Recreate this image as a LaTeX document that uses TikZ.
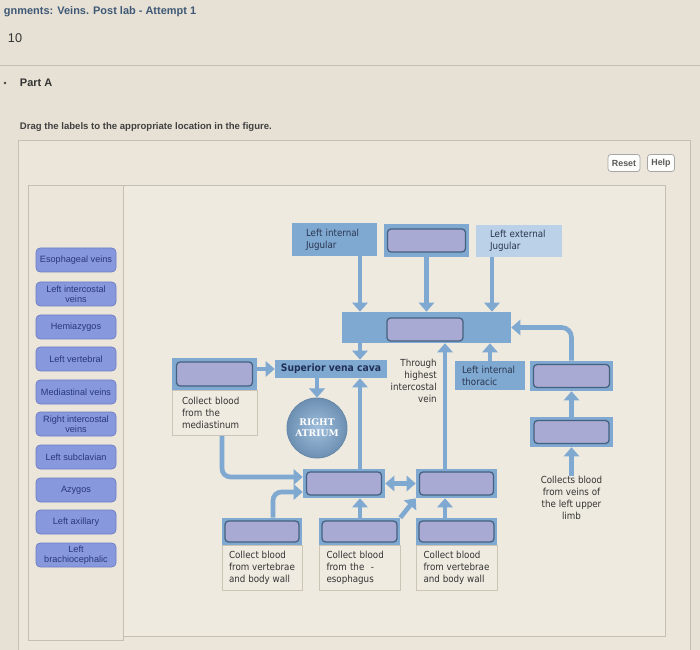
\documentclass[tikz,border=0pt]{standalone}
\usepackage{fontspec}
\setmainfont{Liberation Sans}
\newfontfamily\veinfont[FakeStretch=0.9]{DejaVu Sans}
\newfontfamily\atriumfont{DejaVu Serif}
\usetikzlibrary{arrows.meta}
\definecolor{paper}{HTML}{E7E1D5}
\definecolor{panel}{HTML}{ECE6DA}
\definecolor{figbg}{HTML}{EFEADF}
\definecolor{rule}{HTML}{C4BFB5}
\definecolor{vein}{HTML}{80A9D1}
\definecolor{veinlight}{HTML}{BAD1E7}
\definecolor{slot}{HTML}{A8AAD3}
\definecolor{slotline}{HTML}{46617F}
\definecolor{tilefill}{HTML}{8898DC}
\definecolor{tileline}{HTML}{6C7DC6}
\definecolor{tileink}{HTML}{27377A}
\definecolor{ink}{HTML}{2A3550}
\definecolor{navy}{HTML}{1F2F55}
\definecolor{notefill}{HTML}{F0EBE1}
\definecolor{noteline}{HTML}{CCC5B6}
\definecolor{titleink}{HTML}{3E5876}
\newcommand{\upx}{0.025cm}
\newcommand{\veinsize}{\veinfont\fontsize{6.9}{8.5}\selectfont}

\begin{document}
\begin{tikzpicture}[x=\upx, y=-\upx,
  veinbox/.style={fill=vein, inner sep=0pt, font=\veinsize, text=ink, align=left},
  slotbox/.style={fill=slot, draw=slotline, line width=0.9pt, rounded corners=2.5pt, inner sep=0pt},
  notebox/.style={fill=notefill, draw=noteline, line width=0.5pt, inner sep=0pt, minimum height=45*\upx, font=\veinsize, text=black!80, align=left},
  tile/.style={fill=tilefill, draw=tileline, line width=0.5pt, rounded corners=3pt, minimum width=80*\upx, minimum height=24*\upx, inner sep=1pt, align=center, text=tileink, font=\fontsize{6.5}{7.3}\selectfont},
  button/.style={fill=white!92!paper, draw=black!35, line width=0.5pt, rounded corners=2pt, minimum height=17*\upx, inner sep=0pt, font=\bfseries\fontsize{6.3}{7}\selectfont, text=black!65},
  flow/.style={draw=vein, line width=3.3pt, -{Triangle[width=11pt,length=6.5pt]}}]
  \useasboundingbox (0,0) rectangle (700,650);
  \fill[paper] (0,0) rectangle (700,650);
  \draw[rule] (0,65) -- (700,65);
  \draw[rule, fill=panel] (18,140) rectangle (690,652);
  \draw[rule, fill=figbg] (123,185) rectangle (665,636);
  \draw[rule] (28,185) rectangle (123,640);

  \node[anchor=west, font=\bfseries\fontsize{7.8}{9}\selectfont, text=titleink] (title) at (-1,12) {gnments: Veins. Post lab - Attempt 1};
  \node[anchor=west, font=\fontsize{9}{10}\selectfont, text=black!80] (score) at (3,38) {10};
  \fill[black!75] (5,83) circle (1.4);
  \node[anchor=west, font=\bfseries\fontsize{7.8}{9}\selectfont, text=black!80] (part) at (15,83) {Part A};
  \node[anchor=west, font=\bfseries\fontsize{6.8}{8}\selectfont, text=black!75] (task) at (15,127) {Drag the labels to the appropriate location in the figure.};
  \node[button, minimum width=32*\upx] (reset) at (624,163) {Reset};
  \node[button, minimum width=27*\upx] (help) at (661,163) {Help};

  \node[tile] (esoph) at (76,260) {Esophageal veins};
  \node[tile] (lintcost) at (76,294) {Left intercostal\\veins};
  \node[tile] (hemiaz) at (76,327) {Hemiazygos};
  \node[tile] (lvert) at (76,359) {Left vertebral};
  \node[tile] (medias) at (76,392) {Mediastinal veins};
  \node[tile] (rintcost) at (76,424) {Right intercostal\\veins};
  \node[tile] (lsubcl) at (76,457) {Left subclavian};
  \node[tile] (azyg) at (76,490) {Azygos};
  \node[tile] (laxil) at (76,522) {Left axillary};
  \node[tile] (lbrach) at (76,555) {Left\\brachiocephalic};

  \coordinate (xa) at (360,0);
  \coordinate (xc) at (492,0);
  \coordinate (xm) at (222,0);
  \coordinate (xb) at (273,0);
  \coordinate (xr) at (445,0);
  \coordinate (xt) at (490,0);
  \coordinate (ya) at (0,477);
  \coordinate (yb) at (0,492);

  \node[veinbox, minimum width=85*\upx, minimum height=33*\upx, text width=57*\upx] (lij) at (334.5,239.5) {Left internal\\Jugular};
  \node[veinbox, minimum width=85*\upx, minimum height=33*\upx] (jdrop) at (426.5,240.5) {};
  \node[slotbox, minimum width=78*\upx, minimum height=23*\upx] (jslot) at (jdrop.center) {};
  \node[veinbox, fill=veinlight, minimum width=86*\upx, minimum height=32*\upx, text width=58*\upx] (lej) at (519,241) {Left external\\Jugular};
  \node[veinbox, minimum width=169*\upx, minimum height=31*\upx] (big) at (426.5,327.5) {};
  \node[slotbox, minimum width=76*\upx, minimum height=23*\upx] (bigslot) at (425,329.5) {};
  \node[veinbox, minimum width=112*\upx, minimum height=18*\upx, align=center, font=\veinfont\bfseries\fontsize{7.3}{8.5}\selectfont, text=navy] (svc) at (331,369) {Superior vena cava};
  \node[circle, minimum size=60*\upx, inner sep=0pt, draw=vein!80!black, line width=0.6pt, inner color=vein!75!white, outer color=vein!85!black, align=center, text=white, font=\atriumfont\bfseries\fontsize{6.5}{7.6}\selectfont] (ra) at (317,428) {RIGHT\\ATRIUM};
  \node[veinbox, minimum width=85*\upx, minimum height=32*\upx] (med) at (214.5,374) {};
  \node[slotbox, minimum width=76*\upx, minimum height=24*\upx] (medslot) at (med.center) {};
  \node[notebox, minimum width=85*\upx, text width=65*\upx, anchor=north] (medtext) at (med.south) {Collect blood\\from the\\mediastinum};
  \node[veinbox, minimum width=70*\upx, minimum height=29*\upx, text width=56*\upx] (lit) at (490,375.5) {Left internal\\thoracic};
  \node[anchor=north east, inner sep=0pt, align=right, font=\veinsize, text=black!80] (hiv) at (437,359) {Through\\highest\\intercostal\\vein};
  \node[veinbox, minimum width=83*\upx, minimum height=30*\upx] (rd1) at (571.5,376) {};
  \node[slotbox, minimum width=76*\upx, minimum height=23*\upx] (rd1slot) at (rd1.center) {};
  \node[veinbox, minimum width=83*\upx, minimum height=30*\upx] (rd2) at (571.5,432) {};
  \node[slotbox, minimum width=75*\upx, minimum height=23*\upx] (rd2slot) at (rd2.center) {};
  \node[anchor=north, inner sep=0pt, align=center, font=\veinsize, text=black!80] (limb) at (571.5,476) {Collects blood\\from veins of\\the left upper\\limb};
  \node[veinbox, minimum width=82*\upx, minimum height=29*\upx] (lldrop) at (344,483.5) {};
  \node[slotbox, minimum width=75*\upx, minimum height=23*\upx] (llslot) at (lldrop.center) {};
  \node[veinbox, minimum width=81*\upx, minimum height=29*\upx] (lrdrop) at (456.5,483.5) {};
  \node[slotbox, minimum width=74*\upx, minimum height=23*\upx] (lrslot) at (lrdrop.center) {};
  \node[veinbox, minimum width=80*\upx, minimum height=27*\upx] (b1) at (262,531.5) {};
  \node[slotbox, minimum width=74*\upx, minimum height=21*\upx] (b1slot) at (b1.center) {};
  \node[notebox, minimum width=80*\upx, anchor=north] (b1text) at (b1.south) {Collect blood\\from vertebrae\\and body wall};
  \node[veinbox, minimum width=81*\upx, minimum height=27*\upx] (b2) at (359.5,531.5) {};
  \node[slotbox, minimum width=75*\upx, minimum height=21*\upx] (b2slot) at (b2.center) {};
  \node[notebox, minimum width=81*\upx, text width=66*\upx, anchor=north] (b2text) at (b2.south) {Collect blood\\from the \,\,-\\esophagus};
  \node[veinbox, minimum width=81*\upx, minimum height=27*\upx] (b3) at (456.5,531.5) {};
  \node[slotbox, minimum width=75*\upx, minimum height=21*\upx] (b3slot) at (b3.center) {};
  \node[notebox, minimum width=81*\upx, anchor=north] (b3text) at (b3.south) {Collect blood\\from vertebrae\\and body wall};

  \draw[flow] (lij.south -| xa) -- (big.north -| xa);
  \draw[flow] (jdrop.south) -- (big.north -| jdrop.south);
  \draw[flow] (lej.south -| xc) -- (big.north -| xc);
  \draw[flow] (big.south -| xa) -- (svc.north -| xa);
  \draw[flow] (svc.south -| ra) -- (ra.north);
  \draw[flow] (med.east |- svc) -- (svc.west);
  \draw[flow, rounded corners=6pt] (medtext.south -| xm) |- (lldrop.west |- ya);
  \draw[flow, rounded corners=6pt] (b1.north -| xb) |- (lldrop.west |- yb);
  \draw[flow] (b2.north -| xa) -- (lldrop.south -| xa);
  \draw[flow] (lldrop.north -| xa) -- (svc.south -| xa);
  \draw[flow, {Triangle[width=11pt,length=6.5pt]}-{Triangle[width=11pt,length=6.5pt]}] (lldrop.east) -- (lrdrop.west);
  \draw[flow] (b2.north east) -- (lrdrop.south west);
  \draw[flow] (b3.north -| xr) -- (lrdrop.south -| xr);
  \draw[flow] (lrdrop.north -| xr) -- (big.south -| xr);
  \draw[flow] (lit.north -| xt) -- (big.south -| xt);
  \draw[flow, rounded corners=7pt] (rd1.north) |- (big.east);
  \draw[flow] (rd2.north) -- (rd1.south);
  \draw[flow] (limb.north) -- (rd2.south);
\end{tikzpicture}
\end{document}
